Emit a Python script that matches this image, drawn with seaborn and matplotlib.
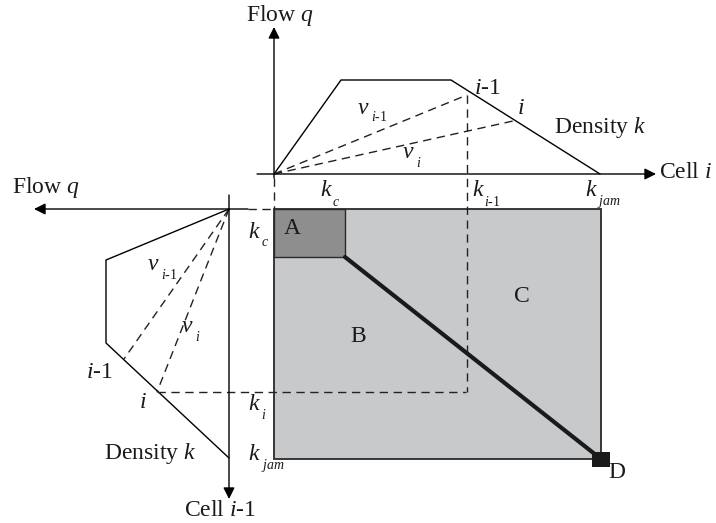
import matplotlib
matplotlib.use("Agg")
import matplotlib.pyplot as plt
import seaborn as sns
import pandas as pd
from matplotlib.patches import Rectangle

sns.set_theme(style="white")
plt.rcParams['font.family'] = ['Liberation Serif', 'DejaVu Serif']
plt.rcParams['mathtext.fontset'] = 'custom'
plt.rcParams['mathtext.rm'] = 'Liberation Serif'
plt.rcParams['mathtext.it'] = 'Liberation Serif:italic'

# ---- data (diagram coordinates, pixel space) ----
top_fd_x = [274, 341, 451, 600]
top_fd_y = [174, 80, 80, 174]
top_ray_im1 = ([274, 467], [174, 95])
top_ray_i = ([274, 513], [174, 121])
left_fd_x = [229, 106, 106, 229]
left_fd_y = [209, 260, 343, 458]
left_ray_im1 = ([229, 124], [209, 359])
left_ray_i = ([229, 157], [209, 392])
box_x = [274, 601]
box_y = [209, 459]
region_a = [274, 345, 209, 257]
boundary_x = [345, 601]
boundary_y = [257, 459]

fig = plt.figure(figsize=(7.16, 5.23), dpi=100)
ax = fig.add_axes([0, 0, 1, 1])
ax.set_xlim(0, 716)
ax.set_ylim(523, 0)
ax.axis('off')

# box regions
ax.add_patch(Rectangle((box_x[0], box_y[0]), box_x[1]-box_x[0], box_y[1]-box_y[0],
                       facecolor='#c8c9cb', edgecolor='#2a2a2a', lw=1.3, zorder=1))
ax.add_patch(Rectangle((region_a[0], region_a[2]), region_a[1]-region_a[0], region_a[3]-region_a[2],
                       facecolor='#8e8e8f', edgecolor='#2a2a2a', lw=1.0, zorder=2))
sns.lineplot(x=boundary_x, y=boundary_y, ax=ax, color='#1a1a1a', lw=3, sort=False,
             estimator=None, zorder=3)
ax.add_patch(Rectangle((592, 452), 18, 15, facecolor='#1a1a1a', edgecolor='none', zorder=4))

# fundamental diagrams
df_top = pd.DataFrame({'x': top_fd_x, 'y': top_fd_y})
sns.lineplot(data=df_top, x='x', y='y', ax=ax, color='black', lw=1, sort=False, estimator=None)
df_left = pd.DataFrame({'x': left_fd_x, 'y': left_fd_y})
sns.lineplot(data=df_left, x='x', y='y', ax=ax, color='black', lw=1, sort=False, estimator=None)

dash = dict(color='#222222', lw=1, ls=(0, (6, 4)))
for rx, ry in [top_ray_im1, top_ray_i, left_ray_im1, left_ray_i]:
    ax.plot(rx, ry, **dash)
ax.plot([467, 467], [95, 392], **dash)
ax.plot([157, 466], [392, 392], **dash)
ax.plot([274, 274], [178, 209], **dash)
ax.plot([248, 274], [209, 209], **dash)

# axes arrows
ap = dict(arrowstyle='-|>', mutation_scale=17, color='black', lw=1, shrinkA=0, shrinkB=0)
ax.annotate('', xy=(274, 27), xytext=(274, 178), arrowprops=ap)
ax.annotate('', xy=(656, 174), xytext=(257, 174), arrowprops=ap)
ax.annotate('', xy=(34, 209), xytext=(248, 209), arrowprops=ap)
ax.annotate('', xy=(229, 499), xytext=(229, 195), arrowprops=ap)

fs = 17
col = '#1a1a1a'
def t(x, y, s, size=fs, ha='center'):
    ax.text(x, y, s, fontsize=size, ha=ha, va='center', color=col)

def sym(x, y, base, sub, sx, sy):
    ax.text(x, y, base, fontsize=fs, ha='left', va='center', color=col, style='italic')
    ax.text(sx, sy, sub, fontsize=10, ha='left', va='center', color=col)

t(280, 15, r'Flow $q$')
t(686, 173, r'Cell $i$')
t(600, 127, r'Density $k$')
sym(358, 108, 'v', r'$i$-1', 371, 117)
sym(403, 153, 'v', r'$i$', 416, 163)
t(487, 89, r'$i$-1')
t(521, 108, r'$i$')
sym(320, 191, 'k', r'$c$', 332, 202)
sym(472, 191, 'k', r'$i$-1', 484, 202)
sym(585, 191, 'k', r'$jam$', 597, 202)

t(46, 187, r'Flow $q$')
sym(148, 265, 'v', r'$i$-1', 161, 275)
sym(182, 326, 'v', r'$i$', 195, 337)
t(99, 373, r'$i$-1')
t(143, 402, r'$i$')
t(150, 453, r'Density $k$')
sym(248, 232, 'k', r'$c$', 261, 243)
sym(248, 404, 'k', r'$i$', 261, 415)
sym(248, 454, 'k', r'$jam$', 261, 465)
t(220, 510, r'Cell $i$-1')

t(292, 228, 'A')
t(358, 336, 'B')
t(522, 297, 'C')
t(617, 473, 'D')

fig.savefig('out.png', dpi=100)
